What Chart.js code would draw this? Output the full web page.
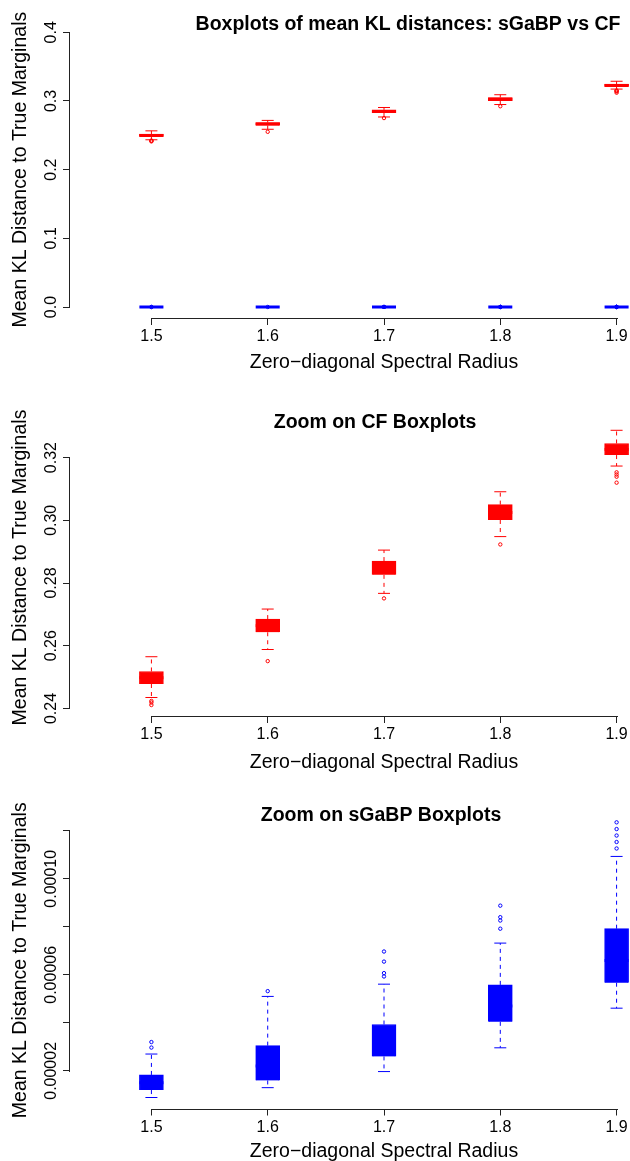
<!DOCTYPE html>
<html>
<head>
<meta charset="utf-8">
<title>Boxplots of mean KL distances: sGaBP vs CF</title>
<script src="https://cdn.jsdelivr.net/npm/chart.js@4.4.1/dist/chart.umd.min.js"></script>
<style>
  html, body { margin: 0; padding: 0; background: #fff; overflow: hidden; width: 630px; height: 1161px; }
  .panel { position: absolute; left: 0; }
  canvas { display: block; }
</style>
</head>
<body>
<div class="panel" style="top:0px"><canvas id="chartAll" width="760" height="387"></canvas></div>
<div class="panel" style="top:387px"><canvas id="chartCF" width="760" height="392"></canvas></div>
<div class="panel" style="top:779px"><canvas id="chartSG" width="760" height="390"></canvas></div>
<script>
// x categories (zero-diagonal spectral radius)
const radius = [1.5, 1.6, 1.7, 1.8, 1.9];
const xTickLabels = ['1.5', '1.6', '1.7', '1.8', '1.9'];

// CF boxplot stats
const cfLower  = [0.2435, 0.2588, 0.2767, 0.2948, 0.3173];
const cfQ1     = [0.2478, 0.2643, 0.2826, 0.3001, 0.3208];
const cfMedian = [0.2498, 0.2664, 0.2848, 0.3025, 0.3226];
const cfQ3     = [0.2518, 0.2685, 0.2870, 0.3050, 0.3245];
const cfUpper  = [0.2565, 0.2717, 0.2905, 0.3091, 0.3287];
const cfOutliers = [
    [0.2424, 0.2419, 0.2411],
    [0.2551],
    [0.2751],
    [0.2923],
    [0.3153, 0.3146, 0.3139, 0.3120]
];

// sGaBP boxplot stats
const sgLower  = [0.0000089, 0.0000130, 0.0000197, 0.0000296, 0.0000461];
const sgQ1     = [0.0000120, 0.0000160, 0.0000260, 0.0000404, 0.0000567];
const sgMedian = [0.0000150, 0.0000220, 0.0000320, 0.0000470, 0.0000660];
const sgQ3     = [0.0000183, 0.0000305, 0.0000393, 0.0000558, 0.0000792];
const sgUpper  = [0.0000270, 0.0000510, 0.0000561, 0.0000732, 0.0001093];
const sgOutliers = [
    [0.0000320, 0.0000297],
    [0.0000532],
    [0.0000697, 0.0000655, 0.0000607, 0.0000593],
    [0.0000888, 0.0000840, 0.0000826, 0.0000792],
    [0.0001235, 0.0001207, 0.0001180, 0.0001153, 0.0001126]
];

// y ticks and their labels
const yTicksAll = [0, 0.1, 0.2, 0.3, 0.4];
const yLabelsAll = ['0.0', '0.1', '0.2', '0.3', '0.4'];
const yTicksCF = [0.24, 0.26, 0.28, 0.30, 0.32];
const yLabelsCF = ['0.24', '0.26', '0.28', '0.30', '0.32'];
const yTicksSG = [0.00002, 0.00004, 0.00006, 0.00008, 0.00010, 0.00012];
const yLabelsSG = ['0.00002', '', '0.00006', '', '0.00010', ''];

const RED = '#FF0000';
const BLUE = '#0000FF';
const AXIS = '#222';
const FONT = "'Liberation Sans', Arial, Helvetica, sans-serif";

Chart.defaults.font.family = FONT;
Chart.defaults.color = '#000';

// builds whiskers, box, staples, median and outliers for one series
function boxDatasets(color, lower, q1, med, q3, upper, outliers) {
    const whiskers = [];
    const caps = [];
    const outs = [];
    radius.forEach((x, i) => {
        whiskers.push({x, y: q3[i]}, {x, y: upper[i]}, {x, y: null});
        whiskers.push({x, y: q1[i]}, {x, y: lower[i]}, {x, y: null});
        caps.push({x, y: upper[i]}, {x, y: lower[i]});
        outliers[i].forEach(v => outs.push({x, y: v}));
    });
    return [
        {
            type: 'line', data: whiskers, borderColor: color, borderWidth: 1,
            borderDash: [4, 4], pointRadius: 0, spanGaps: false, fill: false, order: 5
        },
        {
            type: 'bar', data: radius.map((x, i) => ({x, y: [q1[i], q3[i]]})),
            backgroundColor: color, borderColor: color, borderWidth: 1,
            barThickness: 24, grouped: false, order: 4
        },
        {
            type: 'scatter', data: caps, pointStyle: 'line', pointRadius: 6,
            pointBorderColor: color, pointBorderWidth: 1, order: 3
        },
        {
            type: 'scatter', data: radius.map((x, i) => ({x, y: med[i]})), pointStyle: 'line',
            pointRadius: 12, pointBorderColor: color, pointBorderWidth: 3, order: 2
        },
        {
            type: 'scatter', data: outs, pointStyle: 'circle', pointRadius: 1.7,
            pointBorderColor: color, pointBackgroundColor: 'rgba(0,0,0,0)', pointBorderWidth: 1, order: 1
        }
    ];
}

// R style axes: lines only between first and last tick, rotated y labels, main title
const rAxisPlugin = {
    id: 'rAxis',
    afterDraw(chart, args, opts) {
        const {ctx, chartArea} = chart;
        const x = chart.scales.x, y = chart.scales.y;
        ctx.save();
        ctx.strokeStyle = AXIS;
        ctx.lineWidth = 1;
        const yb = Math.round(chartArea.bottom) + 0.5;
        ctx.beginPath();
        ctx.moveTo(Math.round(x.getPixelForValue(x.ticks[0].value)), yb);
        ctx.lineTo(Math.round(x.getPixelForValue(x.ticks[x.ticks.length - 1].value)) + 1, yb);
        ctx.stroke();
        const xl = Math.round(chartArea.left) - 0.5;
        ctx.beginPath();
        ctx.moveTo(xl, Math.round(y.getPixelForValue(y.ticks[0].value)) + 1);
        ctx.lineTo(xl, Math.round(y.getPixelForValue(y.ticks[y.ticks.length - 1].value)));
        ctx.stroke();

        ctx.fillStyle = '#000';
        ctx.font = '16px ' + FONT;
        ctx.textAlign = 'center';
        ctx.textBaseline = 'alphabetic';
        y.ticks.forEach((t, i) => {
            const text = opts.labels[i];
            if (!text) return;
            ctx.save();
            ctx.translate(56, y.getPixelForValue(t.value));
            ctx.rotate(-Math.PI / 2);
            ctx.fillText(text, 0, 0);
            ctx.restore();
        });

        ctx.font = 'bold 19.5px ' + FONT;
        ctx.fillText(opts.title, opts.titleX, opts.titleY);
        ctx.restore();
    }
};

function makeChart(id, p) {
    new Chart(document.getElementById(id), {
        type: 'bar',
        data: { datasets: p.datasets },
        options: {
            responsive: false,
            animation: false,
            events: [],
            layout: { padding: { left: 0, right: 62, top: p.top, bottom: p.padBottom } },
            plugins: {
                legend: { display: false },
                tooltip: { enabled: false },
                title: { display: false },
                rAxis: { labels: p.yLabels, title: p.title, titleX: p.titleX, titleY: p.titleY }
            },
            scales: {
                x: {
                    type: 'linear', min: 1.43, max: 1.97, offset: false,
                    afterBuildTicks: axis => { axis.ticks = radius.map(v => ({value: v})); },
                    afterFit: axis => { axis.height = p.xAxisHeight; },
                    grid: { offset: false, drawOnChartArea: false, drawTicks: true, tickLength: 7, color: AXIS, lineWidth: 1 },
                    border: { display: false },
                    ticks: {
                        color: '#000', font: { size: 16 }, padding: 2, maxRotation: 0, autoSkip: false,
                        callback: (v, i) => xTickLabels[i]
                    },
                    title: {
                        display: true, text: 'Zero\u2212diagonal Spectral Radius',
                        font: { size: 19.5 }, color: '#000', padding: 0
                    }
                },
                y: {
                    type: 'linear', min: p.yMin, max: p.yMax,
                    afterBuildTicks: axis => { axis.ticks = p.yTicks.map(v => ({value: v})); },
                    afterFit: axis => { axis.width = 70; },
                    grid: { drawOnChartArea: false, drawTicks: true, tickLength: 7, color: AXIS, lineWidth: 1 },
                    border: { display: false },
                    ticks: { display: false },
                    title: {
                        display: true, text: 'Mean KL Distance to True Marginals',
                        font: { size: 19.5 }, color: '#000', padding: { top: 9, bottom: 0 }
                    }
                }
            }
        },
        plugins: [rAxisPlugin]
    });
}

// 1. both methods
makeChart('chartAll', {
    datasets: boxDatasets(RED, cfLower, cfQ1, cfMedian, cfQ3, cfUpper, cfOutliers)
        .concat(boxDatasets(BLUE, sgLower, sgQ1, sgMedian, sgQ3, sgUpper, sgOutliers)),
    top: 21.3, padBottom: 12.8, xAxisHeight: 56.2,
    yMin: -0.016, yMax: 0.416, yTicks: yTicksAll, yLabels: yLabelsAll,
    title: 'Boxplots of mean KL distances: sGaBP vs CF', titleX: 408, titleY: 30
});

// 2. zoom on CF
makeChart('chartCF', {
    datasets: boxDatasets(RED, cfLower, cfQ1, cfMedian, cfQ3, cfUpper, cfOutliers),
    top: 32, padBottom: 4.3, xAxisHeight: 58.7,
    yMin: 0.2376, yMax: 0.3323, yTicks: yTicksCF, yLabels: yLabelsCF,
    title: 'Zoom on CF Boxplots', titleX: 375, titleY: 41.3
});

// 3. zoom on sGaBP
makeChart('chartSG', {
    datasets: boxDatasets(BLUE, sgLower, sgQ1, sgMedian, sgQ3, sgUpper, sgOutliers),
    top: 33, padBottom: 5.3, xAxisHeight: 55.2,
    yMin: 0.00000432, yMax: 0.0001278, yTicks: yTicksSG, yLabels: yLabelsSG,
    title: 'Zoom on sGaBP Boxplots', titleX: 381, titleY: 42
});
</script>
</body>
</html>
